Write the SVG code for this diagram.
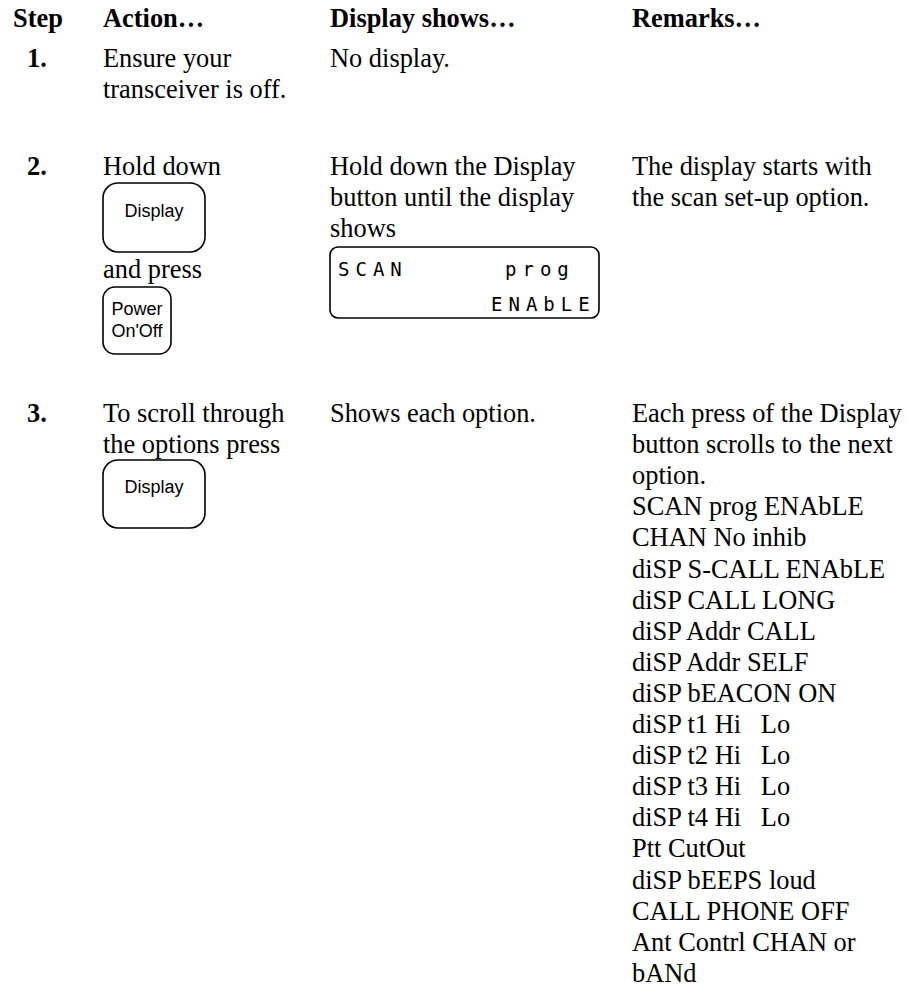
<svg xmlns="http://www.w3.org/2000/svg" width="908" height="989" viewBox="0 0 908 989">
<style>
.t{font-family:"Liberation Serif","Times New Roman",serif;font-size:26.4px;fill:#000}
.b{font-weight:bold}
.btn{fill:#fff;stroke:#000;stroke-width:1.6}
.bl{font-family:"Liberation Sans",Arial,sans-serif;font-size:18px;fill:#000;text-anchor:middle}
.lcd{font-family:"DejaVu Sans Mono","Liberation Mono",monospace;font-size:19px;fill:#000;letter-spacing:6px}
</style>
<rect width="908" height="989" fill="#fff"/>
<g id="header">
<text class="t b" x="13" y="27">Step</text>
<text class="t b" x="103" y="27">Action…</text>
<text class="t b" x="330" y="27">Display shows…</text>
<text class="t b" x="632" y="27">Remarks…</text>
</g>
<g id="step1">
<text class="t b" x="27" y="67">1.</text>
<text class="t" x="103" y="67">Ensure your</text>
<text class="t" x="103" y="98">transceiver is off.</text>
<text class="t" x="330" y="67">No display.</text>
</g>
<g id="step2">
<text class="t b" x="27" y="175">2.</text>
<text class="t" x="103" y="175">Hold down</text>
<g id="btn-display-1">
<rect class="btn" x="103" y="183" width="102" height="69" rx="15"/>
<text class="bl" x="154" y="217">Display</text>
</g>
<text class="t" x="103" y="278">and press</text>
<g id="btn-power">
<rect class="btn" x="103" y="287" width="68" height="67" rx="12"/>
<text class="bl" x="137" y="315">Power</text>
<text class="bl" x="137" y="337">On'Off</text>
</g>
<text class="t" x="330" y="175">Hold down the Display</text>
<text class="t" x="330" y="206">button until the display</text>
<text class="t" x="330" y="237">shows</text>
<g id="lcd">
<rect class="btn" x="330" y="247" width="269" height="71" rx="8"/>
<text class="lcd" x="338" y="276">SCAN</text>
<text class="lcd" x="505" y="276">prog</text>
<text class="lcd" x="491" y="311">ENAbLE</text>
</g>
<text class="t" x="632" y="175">The display starts with</text>
<text class="t" x="632" y="206">the scan set-up option.</text>
</g>
<g id="step3">
<text class="t b" x="27" y="422">3.</text>
<text class="t" x="103" y="422">To scroll through</text>
<text class="t" x="103" y="453">the options press</text>
<g id="btn-display-2">
<rect class="btn" x="103" y="460" width="102" height="68" rx="15"/>
<text class="bl" x="154" y="493">Display</text>
</g>
<text class="t" x="330" y="422">Shows each option.</text>
<text class="t" x="632" y="422" xml:space="preserve">Each press of the Display<tspan x="632" dy="31.1">button scrolls to the next</tspan><tspan x="632" dy="31.1">option.</tspan><tspan x="632" dy="31.1">SCAN prog ENAbLE</tspan><tspan x="632" dy="31.1">CHAN No inhib</tspan><tspan x="632" dy="31.1">diSP S-CALL ENAbLE</tspan><tspan x="632" dy="31.1">diSP CALL LONG</tspan><tspan x="632" dy="31.1">diSP Addr CALL</tspan><tspan x="632" dy="31.1">diSP Addr SELF</tspan><tspan x="632" dy="31.1">diSP bEACON ON</tspan><tspan x="632" dy="31.1">diSP t1 Hi   Lo</tspan><tspan x="632" dy="31.1">diSP t2 Hi   Lo</tspan><tspan x="632" dy="31.1">diSP t3 Hi   Lo</tspan><tspan x="632" dy="31.1">diSP t4 Hi   Lo</tspan><tspan x="632" dy="31.1">Ptt CutOut</tspan><tspan x="632" dy="31.1">diSP bEEPS loud</tspan><tspan x="632" dy="31.1">CALL PHONE OFF</tspan><tspan x="632" dy="31.1">Ant Contrl CHAN or</tspan><tspan x="632" dy="31.1">bANd</tspan></text>
</g>
</svg>
